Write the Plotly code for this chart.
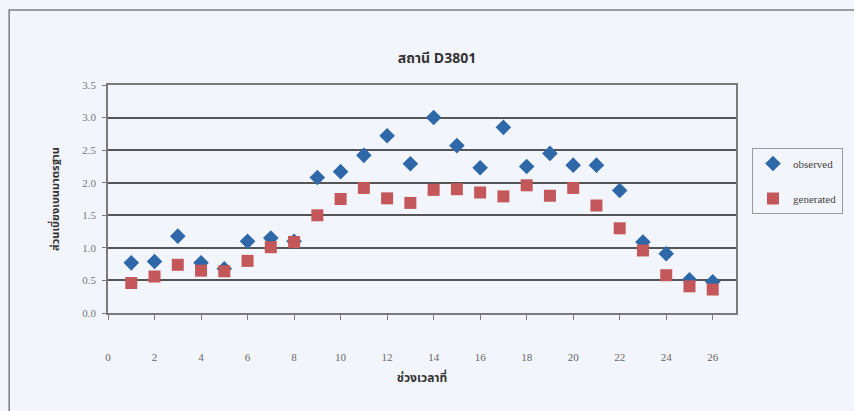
import plotly.graph_objects as go

# Standard deviation per period at station D3801
periods = list(range(1, 27))
observed = [0.77, 0.79, 1.18, 0.77, 0.68, 1.10, 1.15, 1.10, 2.08, 2.17,
            2.42, 2.72, 2.29, 3.00, 2.57, 2.23, 2.85, 2.25, 2.45, 2.27,
            2.27, 1.88, 1.09, 0.91, 0.51, 0.48]
generated = [0.46, 0.56, 0.74, 0.65, 0.64, 0.80, 1.01, 1.09, 1.50, 1.75,
             1.92, 1.76, 1.69, 1.89, 1.90, 1.85, 1.79, 1.96, 1.80, 1.92,
             1.65, 1.30, 0.96, 0.58, 0.41, 0.36]
x_ticks = list(range(0, 27, 2))
y_ticks = [0.0, 0.5, 1.0, 1.5, 2.0, 2.5, 3.0, 3.5]

W, H = 854, 411
L, R, T, B = 108, 117, 85, 98
pw, ph = W - L - R, H - T - B

BG = "#f3f5fc"
SERIF = "Liberation Serif, Times New Roman, serif"
THAI = "Noto Sans Thai, Noto Serif Thai, Loma, Garuda, DejaVu Sans, sans-serif"

fig = go.Figure()
fig.add_trace(go.Scatter(
    x=periods, y=observed, mode="markers", name="observed", legendgroup="obs",
    marker=dict(symbol="diamond", size=12, color="#2e68a8",
                line=dict(width=0))))
fig.add_trace(go.Scatter(
    x=periods, y=generated, mode="markers", name="generated", legendgroup="gen",
    marker=dict(symbol="square", size=12, color="#c4575a",
                line=dict(width=0))))


def px_x(p):
    return (p - L) / pw


def px_y(p):
    return (H - B - p) / ph


fig.update_layout(
    width=W, height=H,
    margin=dict(l=L, r=R, t=T, b=B),
    paper_bgcolor=BG, plot_bgcolor=BG,
    title=dict(text="<b>สถานี D3801</b>", x=437 / W, xanchor="center",
               y=1 - 58 / H, yanchor="middle",
               font=dict(family=THAI, size=14, color="#333")),
    showlegend=True,
    legend=dict(x=px_x(752), y=px_y(148), xanchor="left", yanchor="top",
                bgcolor=BG, bordercolor="#9a9a9a", borderwidth=1,
                font=dict(family=SERIF, size=11, color="#444"),
                itemsizing="constant", tracegroupgap=16),
    xaxis=dict(range=[0, 27], tickvals=x_ticks, ticktext=[str(v) for v in x_ticks],
               showgrid=False, zeroline=False,
               showline=True, linecolor="#7a7a7a", linewidth=1.5, mirror=True,
               ticks="outside", ticklen=5, tickcolor="#7a7a7a",
               ticklabelstandoff=28,
               tickfont=dict(family=SERIF, size=11, color="#666"),
               title=dict(text="<b>ช่วงเวลาที่</b>", standoff=12,
                          font=dict(family=THAI, size=12, color="#333"))),
    yaxis=dict(range=[0, 3.5], tickvals=y_ticks, tickformat=".1f",
               showgrid=True, gridcolor="#555555", gridwidth=1.8,
               zeroline=False,
               showline=True, linecolor="#7a7a7a", linewidth=1.5, mirror=True,
               ticks="outside", ticklen=4, tickcolor="#7a7a7a",
               ticklabelstandoff=4,
               tickfont=dict(family=SERIF, size=11, color="#777"),
               title=dict(text="<b>ส่วนเบี่ยงเบนมาตรฐาน</b>", standoff=20,
                          font=dict(family=THAI, size=11, color="#333"))),
    shapes=[dict(type="rect", xref="paper", yref="paper",
                 x0=px_x(9), x1=px_x(W + 10), y0=px_y(H + 10), y1=px_y(10),
                 line=dict(color="#7d7d7d", width=1.5), layer="below")],
)

fig.write_html("out.html")
